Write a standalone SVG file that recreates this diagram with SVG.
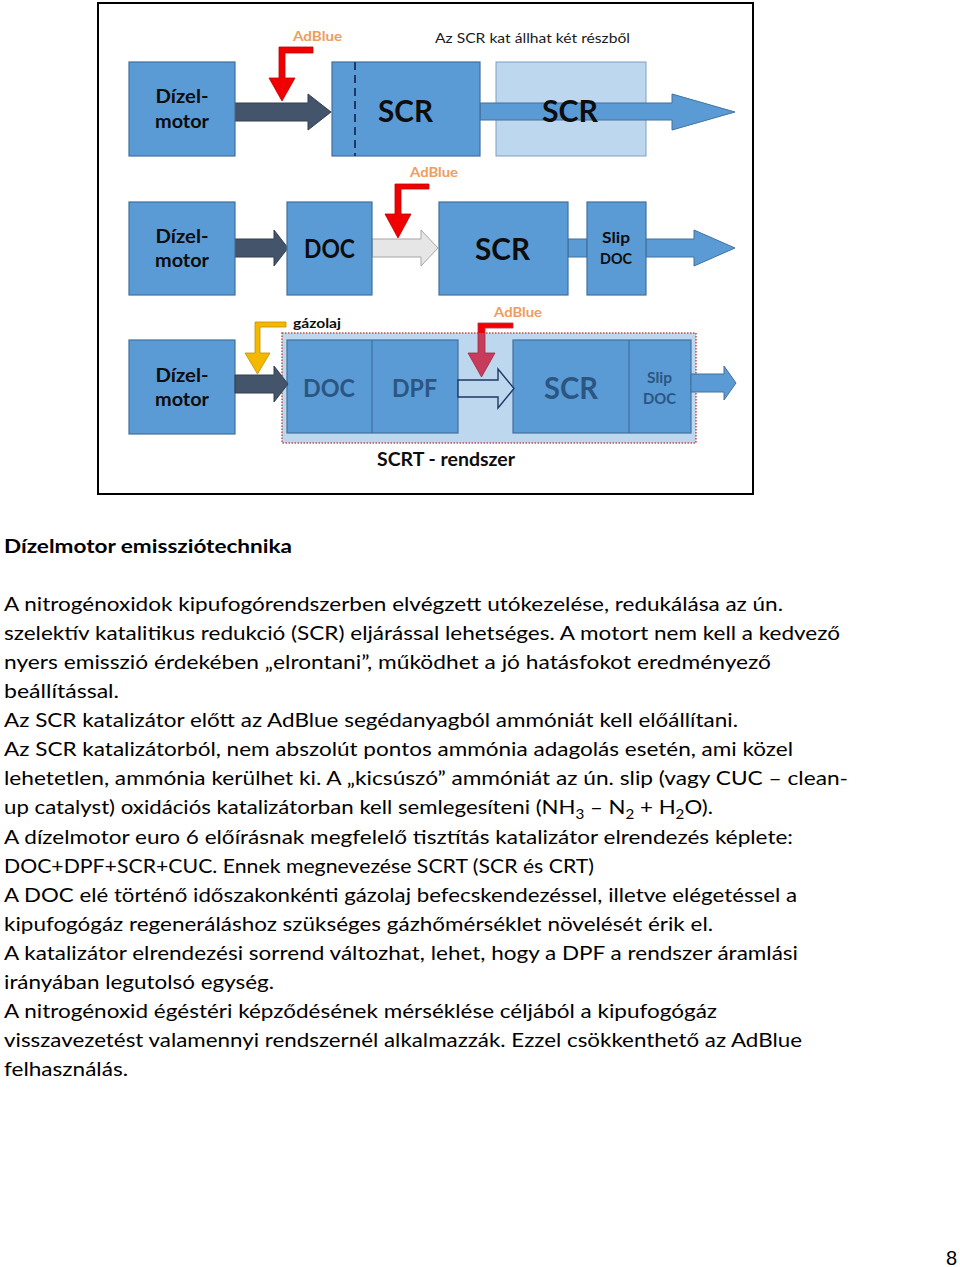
<svg xmlns="http://www.w3.org/2000/svg" width="960" height="1267" viewBox="0 0 960 1267">
<style>
.box{fill:#5b9bd5;stroke:#41719c;stroke-width:1.2}
.lbl{font-family:Lato,"Liberation Sans",sans-serif;font-weight:bold;fill:#0d0d0d;text-anchor:middle}
.mut{font-family:Lato,"Liberation Sans",sans-serif;font-weight:bold;fill:#2b5682;text-anchor:middle}
.ad{font-family:Lato,"Liberation Sans",sans-serif;font-weight:bold;fill:#ee9d5c;font-size:13.5px}
.body{font-family:Lato,"Liberation Sans",sans-serif;font-size:19px;fill:#000}
.dark{fill:#44546a;stroke:#333f50;stroke-width:1}
.blue{fill:#5b9bd5;stroke:#41719c;stroke-width:1}
</style>
<rect width="960" height="1267" fill="#fff"/>
<rect x="98" y="3" width="655" height="491" fill="#fff" stroke="#000" stroke-width="2"/>

<!-- Row 1 -->
<g id="r1-light-scr"><rect x="496" y="62" width="150" height="94" fill="#bdd7ee" stroke="#7f9fc4" stroke-width="1"/></g>
<g id="connectors">
 <polygon class="dark" points="235,103 308,103 308,94 331,112 308,130 308,121 235,121"/>
 <polygon class="blue" points="480,103 672,103 672,94 735,112 672,130 672,120 480,120"/>
 <polygon fill="#f00000" stroke="#c00000" stroke-width="0.8" points="279,47 313,47 313,53 285,53 285,78 295,78 282,101 269,78 279,78"/>
 <polygon class="dark" points="235,239 274,239 274,230 288,248 274,266 274,257 235,257"/>
 <polygon fill="#e7e6e6" stroke="#a5a5a5" stroke-width="1" points="372,239 421,239 421,230 438,248 421,266 421,257 372,257"/>
 <polygon fill="#f00000" stroke="#c00000" stroke-width="0.8" points="395,184 429,184 429,189 401,189 401,214 411,214 398,238 385,214 395,214"/>
 <rect class="blue" x="568" y="239" width="19" height="18"/>
 <polygon class="blue" points="646,239 694,239 694,230 735,248 694,266 694,257 646,257"/>
</g>
<g id="r1-diesel"><rect class="box" x="129" y="62" width="106" height="94"/>
 <text class="lbl" x="182" y="103" font-size="19" textLength="53" lengthAdjust="spacingAndGlyphs">Dízel-</text>
 <text class="lbl" x="182" y="128" font-size="19" textLength="54" lengthAdjust="spacingAndGlyphs">motor</text></g>
<g id="r1-scr"><rect class="box" x="332" y="62" width="148" height="94"/>
 <line x1="355" y1="62" x2="355" y2="156" stroke="#1f3864" stroke-width="2" stroke-dasharray="8 5"/>
 <text class="lbl" x="405.5" y="122" font-size="31" textLength="55" lengthAdjust="spacingAndGlyphs">SCR</text></g>
<g id="r1-scr2-label"><text class="lbl" x="570" y="122" font-size="31" textLength="56" lengthAdjust="spacingAndGlyphs">SCR</text></g>
<g id="r1-adblue"><text class="ad" x="293" y="41" textLength="49" lengthAdjust="spacingAndGlyphs">AdBlue</text></g>
<g id="r1-note"><text x="435" y="43" font-family="Lato,'Liberation Sans',sans-serif" font-size="13.5" fill="#1a1a1a" textLength="195" lengthAdjust="spacingAndGlyphs">Az SCR kat állhat két részből</text></g>

<!-- Row 2 -->
<g id="r2-diesel"><rect class="box" x="129" y="202" width="106" height="93"/>
 <text class="lbl" x="182" y="243" font-size="19" textLength="53" lengthAdjust="spacingAndGlyphs">Dízel-</text>
 <text class="lbl" x="182" y="267" font-size="19" textLength="54" lengthAdjust="spacingAndGlyphs">motor</text></g>
<g id="r2-doc"><rect class="box" x="287" y="202" width="85" height="93"/>
 <text class="lbl" x="329.5" y="258" font-size="26" textLength="51" lengthAdjust="spacingAndGlyphs">DOC</text></g>
<g id="r2-adblue"><text class="ad" x="410" y="177" textLength="48" lengthAdjust="spacingAndGlyphs">AdBlue</text></g>
<g id="r2-scr"><rect class="box" x="439" y="202" width="129" height="93"/>
 <text class="lbl" x="502.5" y="260" font-size="31" textLength="55" lengthAdjust="spacingAndGlyphs">SCR</text></g>
<g id="r2-slip"><rect class="box" x="587" y="202" width="59" height="93"/>
 <text class="lbl" x="616" y="243" font-size="16" textLength="28" lengthAdjust="spacingAndGlyphs">Slip</text>
 <text class="lbl" x="616" y="264" font-size="16" textLength="32" lengthAdjust="spacingAndGlyphs">DOC</text></g>

<!-- Row 3 -->
<g id="r3-scrt-frame"><rect x="282" y="333" width="414" height="110" fill="#bdd7ee" stroke="#c0504d" stroke-width="1.5" stroke-dasharray="1.5 1.5"/></g>
<g id="r3-diesel"><rect class="box" x="129" y="340" width="106" height="94"/>
 <text class="lbl" x="182" y="382" font-size="19" textLength="53" lengthAdjust="spacingAndGlyphs">Dízel-</text>
 <text class="lbl" x="182" y="406" font-size="19" textLength="54" lengthAdjust="spacingAndGlyphs">motor</text></g>
<g id="r3-docdpf"><rect class="box" x="287" y="340" width="171" height="93"/>
 <line x1="372" y1="340" x2="372" y2="433" stroke="#41719c" stroke-width="1.2"/>
 <text class="mut" x="329" y="397" font-size="25" textLength="52" lengthAdjust="spacingAndGlyphs">DOC</text>
 <text class="mut" x="414.5" y="397" font-size="25" textLength="45" lengthAdjust="spacingAndGlyphs">DPF</text></g>
<g id="r3-scrslip"><rect class="box" x="513" y="340" width="178" height="93"/>
 <line x1="629" y1="340" x2="629" y2="433" stroke="#41719c" stroke-width="1.2"/>
 <text class="mut" x="571" y="399" font-size="31" textLength="54" lengthAdjust="spacingAndGlyphs">SCR</text>
 <text class="mut" x="659.5" y="383" font-size="16" textLength="25" lengthAdjust="spacingAndGlyphs">Slip</text>
 <text class="mut" x="659.5" y="404" font-size="16" textLength="33" lengthAdjust="spacingAndGlyphs">DOC</text></g>
<g id="connectors-r3">
 <polygon class="dark" points="235,375 274,375 274,366 288,384 274,402 274,393 235,393"/>
 <polygon fill="#f5b800" stroke="#bf9000" stroke-width="0.8" points="255,322 286,322 286,327 260,327 260,353 270,353 257.5,374 245,353 255,353"/>
 <polygon fill="#c63c5a" stroke="#a02c44" stroke-width="0.8" points="478,323 513,323 513,328 485,328 485,353 495,353 481.5,377 468,353 478,353"/>
 <polygon fill="#f00000" points="478.4,323.4 512.6,323.4 512.6,327.6 484.6,327.6 484.6,333 478.4,333"/>
 <polygon fill="#bdd7ee" stroke="#203864" stroke-width="1.4" points="458,380 498,380 498,369 514,388.5 498,408 498,397 458,397"/>
 <polygon class="blue" points="691,374 724,374 724,366 736,383 724,400 724,392 691,392"/>
</g>
<g id="r3-gazolaj"><text class="lbl" x="317" y="328" font-size="13.5" textLength="48" lengthAdjust="spacingAndGlyphs">gázolaj</text></g>
<g id="r3-adblue"><text class="ad" x="494" y="317" textLength="48" lengthAdjust="spacingAndGlyphs">AdBlue</text></g>
<g id="r3-caption"><text class="lbl" x="446" y="466" font-size="18" textLength="138" lengthAdjust="spacingAndGlyphs">SCRT - rendszer</text></g>

<!-- Body text -->
<g id="body-text">
<text class="body" x="4" y="553" font-weight="bold" textLength="288" lengthAdjust="spacingAndGlyphs">Dízelmotor emissziótechnika</text>
<text class="body" x="4" y="611" textLength="779" lengthAdjust="spacingAndGlyphs">A nitrogénoxidok kipufogórendszerben elvégzett utókezelése, redukálása az ún.</text>
<text class="body" x="4" y="640" textLength="836" lengthAdjust="spacingAndGlyphs">szelektív katalitikus redukció (SCR) eljárással lehetséges. A motort nem kell a kedvező</text>
<text class="body" x="4" y="669" textLength="767" lengthAdjust="spacingAndGlyphs">nyers emisszió érdekében „elrontani”, működhet a jó hatásfokot eredményező</text>
<text class="body" x="4" y="698" textLength="115" lengthAdjust="spacingAndGlyphs">beállítással.</text>
<text class="body" x="4" y="727" textLength="734" lengthAdjust="spacingAndGlyphs">Az SCR katalizátor előtt az AdBlue segédanyagból ammóniát kell előállítani.</text>
<text class="body" x="4" y="756" textLength="789" lengthAdjust="spacingAndGlyphs">Az SCR katalizátorból, nem abszolút pontos ammónia adagolás esetén, ami közel</text>
<text class="body" x="4" y="785" textLength="844" lengthAdjust="spacingAndGlyphs">lehetetlen, ammónia kerülhet ki. A „kicsúszó” ammóniát az ún. slip (vagy CUC – clean-</text>
<text class="body" x="4" y="814" textLength="709" lengthAdjust="spacingAndGlyphs">up catalyst) oxidációs katalizátorban kell semlegesíteni (NH<tspan font-size="13" dy="5">3</tspan><tspan dy="-5"> – N</tspan><tspan font-size="13" dy="5">2</tspan><tspan dy="-5"> + H</tspan><tspan font-size="13" dy="5">2</tspan><tspan dy="-5">O).</tspan></text>
<text class="body" x="4" y="844" textLength="789" lengthAdjust="spacingAndGlyphs">A dízelmotor euro 6 előírásnak megfelelő tisztítás katalizátor elrendezés képlete:</text>
<text class="body" x="4" y="873" textLength="590" lengthAdjust="spacingAndGlyphs">DOC+DPF+SCR+CUC. Ennek megnevezése SCRT (SCR és CRT)</text>
<text class="body" x="4" y="902" textLength="793" lengthAdjust="spacingAndGlyphs">A DOC elé történő időszakonkénti gázolaj befecskendezéssel, illetve elégetéssel a</text>
<text class="body" x="4" y="931" textLength="709" lengthAdjust="spacingAndGlyphs">kipufogógáz regeneráláshoz szükséges gázhőmérséklet növelését érik el.</text>
<text class="body" x="4" y="960" textLength="794" lengthAdjust="spacingAndGlyphs">A katalizátor elrendezési sorrend változhat, lehet, hogy a DPF a rendszer áramlási</text>
<text class="body" x="4" y="989" textLength="270" lengthAdjust="spacingAndGlyphs">irányában legutolsó egység.</text>
<text class="body" x="4" y="1018" textLength="713" lengthAdjust="spacingAndGlyphs">A nitrogénoxid égéstéri képződésének mérséklése céljából a kipufogógáz</text>
<text class="body" x="4" y="1047" textLength="798" lengthAdjust="spacingAndGlyphs">visszavezetést valamennyi rendszernél alkalmazzák. Ezzel csökkenthető az AdBlue</text>
<text class="body" x="4" y="1076" textLength="124" lengthAdjust="spacingAndGlyphs">felhasználás.</text>
</g>
<g id="page-number"><text x="957" y="1265" font-family="'Liberation Sans',sans-serif" font-size="20" text-anchor="end" fill="#000">8</text></g>
</svg>
